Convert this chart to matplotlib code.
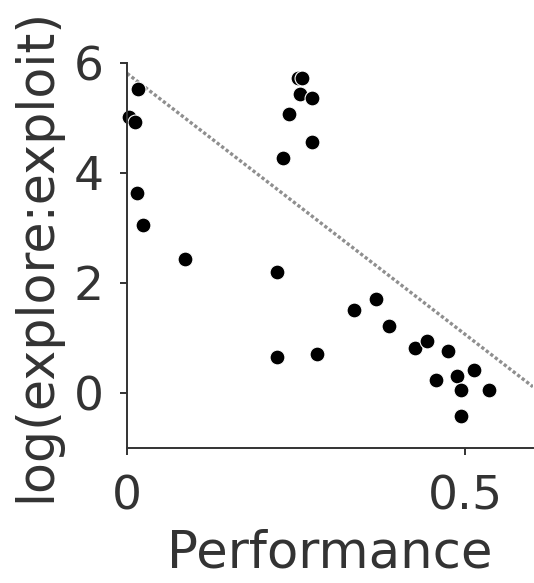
import numpy as np
import matplotlib
matplotlib.use("Agg")
import matplotlib.pyplot as plt

# Data
performance = [0.003, 0.012, 0.016, 0.015, 0.024, 0.085, 0.222, 0.222, 0.281,
               0.230, 0.240, 0.253, 0.258, 0.256, 0.273, 0.274, 0.336, 0.368,
               0.387, 0.425, 0.444, 0.456, 0.475, 0.488, 0.494, 0.493, 0.513,
               0.535]
log_ratio = [5.01, 4.92, 5.52, 3.63, 3.06, 2.43, 2.20, 0.65, 0.70,
             4.28, 5.08, 5.73, 5.73, 5.43, 5.37, 4.57, 1.50, 1.71,
             1.21, 0.82, 0.94, 0.24, 0.76, 0.31, 0.05, -0.42, 0.42,
             0.05]

# Fitted line (intercept, slope)
fit_coef = [5.81, -9.5]

text_color = "#333333"
plt.rcParams["font.family"] = "DejaVu Sans"

fig = plt.figure(figsize=(5.34, 5.83), dpi=100)
ax = fig.add_axes([0.238, 0.232, 0.76, 0.66])

xs = np.array([0, 0.6])
ax.plot(xs, fit_coef[0] + fit_coef[1] * xs, color="#8f8f8f", lw=2.4,
        linestyle=(0, (1.0, 0.7)), zorder=1)
ax.scatter(performance, log_ratio, s=115, c="black", edgecolors="white",
           linewidths=0.8, zorder=2, clip_on=False)

ax.set_xlim(0, 0.6)
ax.set_ylim(-1, 6)
ax.set_xticks([0, 0.5])
ax.set_xticklabels(["0", "0.5"])
ax.set_yticks([0, 2, 4, 6])

for side in ["top", "right"]:
    ax.spines[side].set_visible(False)
for side in ["left", "bottom"]:
    ax.spines[side].set_color(text_color)
    ax.spines[side].set_linewidth(1.4)

ax.tick_params(colors=text_color, labelsize=34, length=5, width=1.4)
ax.tick_params(axis="y", pad=12)
ax.tick_params(axis="x", pad=14)
ax.set_xlabel("Performance", fontsize=37, color=text_color, labelpad=7)
ax.set_ylabel("log(explore:exploit)", fontsize=36.5, color=text_color, labelpad=9)

fig.savefig("out.png", dpi=100)
